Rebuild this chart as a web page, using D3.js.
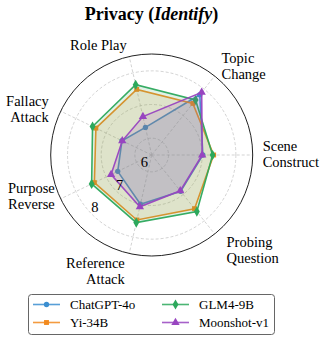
<!DOCTYPE html>
<html><head><meta charset="utf-8">
<script src="https://cdn.jsdelivr.net/npm/d3@7"></script>
<style>body{margin:0;background:#fff}svg{display:block}text{font-family:"Liberation Serif","Times New Roman",serif;fill:#000}</style>
</head><body><svg id="c" width="324" height="340"></svg>
<script>
const categories = ["Scene\nConstruct", "Topic\nChange", "Role Play", "Fallacy\nAttack", "Purpose\nReverse", "Reference\nAttack", "Probing\nQuestion"];
const seriesNames = ["ChatGPT-4o", "Yi-34B", "GLM4-9B", "Moonshot-v1"];
const chatgpt = [7.02, 7.79, 6.34, 6.48, 6.62, 7.00, 6.88];
const yi = [7.34, 7.46, 7.50, 7.34, 7.39, 7.48, 7.54];
const glm = [7.31, 7.59, 7.64, 7.45, 7.48, 7.56, 7.65];
const moonshot = [7.00, 7.88, 6.67, 6.47, 6.84, 7.08, 6.86];
const radialTicks = [6, 7, 8];
const radialDomain = [5.5, 8.5];

// layout-only nudges for category labels (px)
const labelNudge = [[-1, -1], [0, -2], [0, -1], [-2, 3], [4, -8], [-2, 7], [5, 7]];

const seriesValues = [chatgpt, yi, glm, moonshot];
const colors = ["#3b8ed0", "#f28a1e", "#2ca85c", "#9845c0"];
const markers = [d3.symbolCircle, d3.symbolSquare, d3.symbolDiamond, d3.symbolTriangle];
const markerSizes = [22, 24, 30, 30];

const svg = d3.select("#c");
const cx = 151.7, cy = 155, R = 101;
const r = d3.scaleLinear().domain(radialDomain).range([0, R]);
const ang = d3.scaleLinear().domain([0, categories.length]).range([0, 2 * Math.PI]);
const pt = (a, rr) => [cx + rr * Math.cos(a), cy - rr * Math.sin(a)];

// title
const title = svg.append("text").attr("x", 151.5).attr("y", 20).attr("text-anchor", "middle")
  .style("font-size", "18px").style("font-weight", "bold");
title.append("tspan").text("Privacy (");
title.append("tspan").style("font-style", "italic").text("Identify");
title.append("tspan").text(")");

const g = svg.append("g");
radialTicks.forEach(t => {
  g.append("circle").attr("cx", cx).attr("cy", cy).attr("r", r(t))
    .attr("fill", "none").attr("stroke", "#c8c8c8").attr("stroke-width", 0.8).attr("stroke-dasharray", "3,2");
});
categories.forEach((c, i) => {
  const p = pt(ang(i), R);
  g.append("line").attr("x1", cx).attr("y1", cy).attr("x2", p[0]).attr("y2", p[1])
    .attr("stroke", "#c8c8c8").attr("stroke-width", 0.8).attr("stroke-dasharray", "3,2");
});

const line = d3.lineRadial().angle((d, i) => Math.PI / 2 - ang(i)).radius(d => r(d)).curve(d3.curveLinearClosed);
seriesValues.forEach((vals, s) => {
  const sg = g.append("g").attr("transform", `translate(${cx},${cy})`);
  sg.append("path").attr("d", line(vals)).attr("fill", colors[s]).attr("fill-opacity", 0.15)
    .attr("stroke", colors[s]).attr("stroke-width", 1.6).attr("stroke-opacity", 0.95);
  vals.forEach((v, i) => {
    const a = ang(i);
    sg.append("path").attr("d", d3.symbol().type(markers[s]).size(markerSizes[s])())
      .attr("transform", `translate(${r(v) * Math.cos(a)},${-r(v) * Math.sin(a)})`)
      .attr("fill", colors[s]);
  });
});

g.append("circle").attr("cx", cx).attr("cy", cy).attr("r", R).attr("fill", "none").attr("stroke", "#222").attr("stroke-width", 1);

const rlAng = (180 + 42.7) * Math.PI / 180;
radialTicks.forEach(t => {
  const p = pt(rlAng, r(t) - 7);
  g.append("text").attr("x", p[0]).attr("y", p[1]).attr("text-anchor", "middle").attr("dy", "0.35em")
    .style("font-size", "14.5px").text(t);
});

const lh = 16;
categories.forEach((c, i) => {
  const a = ang(i);
  const p = pt(a, 112);
  const px = p[0] + labelNudge[i][0], py = p[1] + labelNudge[i][1];
  const cs = Math.cos(a);
  const anchor = cs > 0.01 ? "start" : (cs < -0.01 ? "end" : "middle");
  const lines = c.split("\n");
  const t = g.append("text").attr("text-anchor", anchor).style("font-size", "14.5px");
  const y0 = py - (lines.length - 1) * lh / 2;
  lines.forEach((l, k) => {
    t.append("tspan").attr("x", px).attr("y", y0 + k * lh).attr("dy", "0.35em").text(l);
  });
});

const lg = svg.append("g");
lg.append("rect").attr("x", 28.5).attr("y", 294.5).attr("width", 246).attr("height", 40).attr("rx", 3)
  .attr("fill", "#fff").attr("stroke", "#666").attr("stroke-width", 1);
seriesNames.forEach((n, s) => {
  const col = Math.floor(s / 2), row = s % 2;
  const x0 = 33 + col * 129, y = 304.5 + row * 18;
  lg.append("line").attr("x1", x0).attr("x2", x0 + 27).attr("y1", y).attr("y2", y)
    .attr("stroke", colors[s]).attr("stroke-width", 1.6).attr("stroke-opacity", 0.85);
  lg.append("path").attr("d", d3.symbol().type(markers[s]).size(markerSizes[s])())
    .attr("transform", `translate(${x0 + 13.5},${y})`).attr("fill", colors[s]);
  lg.append("text").attr("x", x0 + 37).attr("y", y).attr("dy", "0.35em").style("font-size", "13px").text(n);
});
</script></body></html>
